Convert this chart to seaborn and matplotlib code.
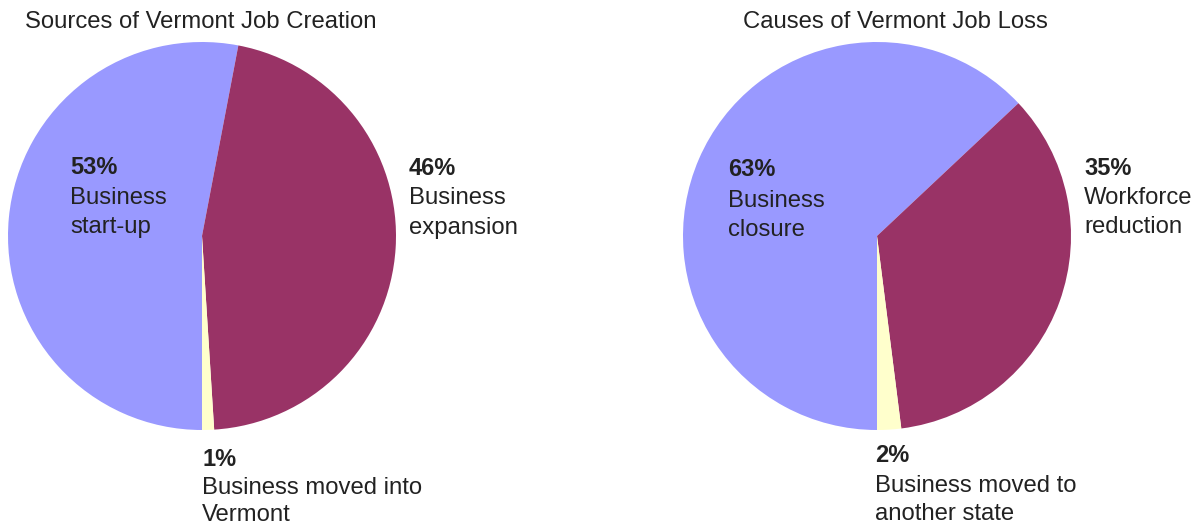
import matplotlib
matplotlib.use("Agg")
import matplotlib.pyplot as plt
import seaborn as sns

# ---- data ----
creation_title = "Sources of Vermont Job Creation"
creation_names = ["Business\nstart-up", "Business\nexpansion", "Business moved into\nVermont"]
creation_values = [53, 46, 1]

loss_title = "Causes of Vermont Job Loss"
loss_names = ["Business\nclosure", "Workforce\nreduction", "Business moved to\nanother state"]
loss_values = [63, 35, 2]

colors = ["#9999FF", "#993366", "#FFFFCC"]

sns.set_style("white")
plt.rcParams["font.family"] = ["Liberation Sans", "DejaVu Sans"]

W, H = 1204, 525
fig = plt.figure(figsize=(W / 100, H / 100), dpi=100)
TXT = "#222222"


def px_axes(cx, cy, r):
    return fig.add_axes([(cx - r) / W, (H - cy - r) / H, 2 * r / W, 2 * r / H])


def draw_pie(ax, values):
    ax.pie(values, colors=colors, startangle=270, counterclock=False,
           wedgeprops=dict(linewidth=0), radius=1)
    ax.set_xlim(-1, 1)
    ax.set_ylim(-1, 1)
    ax.set_aspect("equal")
    ax.axis("off")


def label(x, y, pct, name, lh=30):
    fig.text(x / W, 1 - y / H, f"{pct}%", fontsize=17, fontweight="bold",
             color=TXT, ha="left", va="center")
    for i, line in enumerate(name.split("\n")):
        fig.text(x / W, 1 - (y + 1 + lh * (i + 1)) / H, line, fontsize=17.2,
                 color=TXT, ha="left", va="center")


ax1 = px_axes(202, 236, 194)
draw_pie(ax1, creation_values)
ax2 = px_axes(877, 236, 194)
draw_pie(ax2, loss_values)

fig.text(25 / W, 1 - 22 / H, creation_title, fontsize=17.2, color=TXT, ha="left", va="center")
fig.text(743 / W, 1 - 22 / H, loss_title, fontsize=17.2, color=TXT, ha="left", va="center")

label(70, 167, creation_values[0], creation_names[0], lh=29.5)
label(409, 168, creation_values[1], creation_names[1], lh=29.5)
label(202, 459, creation_values[2], creation_names[2], lh=27.5)

label(728, 170, loss_values[0], loss_names[0], lh=29.5)
label(1084, 168, loss_values[1], loss_names[1], lh=29)
label(875, 456, loss_values[2], loss_names[2], lh=28.5)

fig.savefig("out.png", dpi=100)
